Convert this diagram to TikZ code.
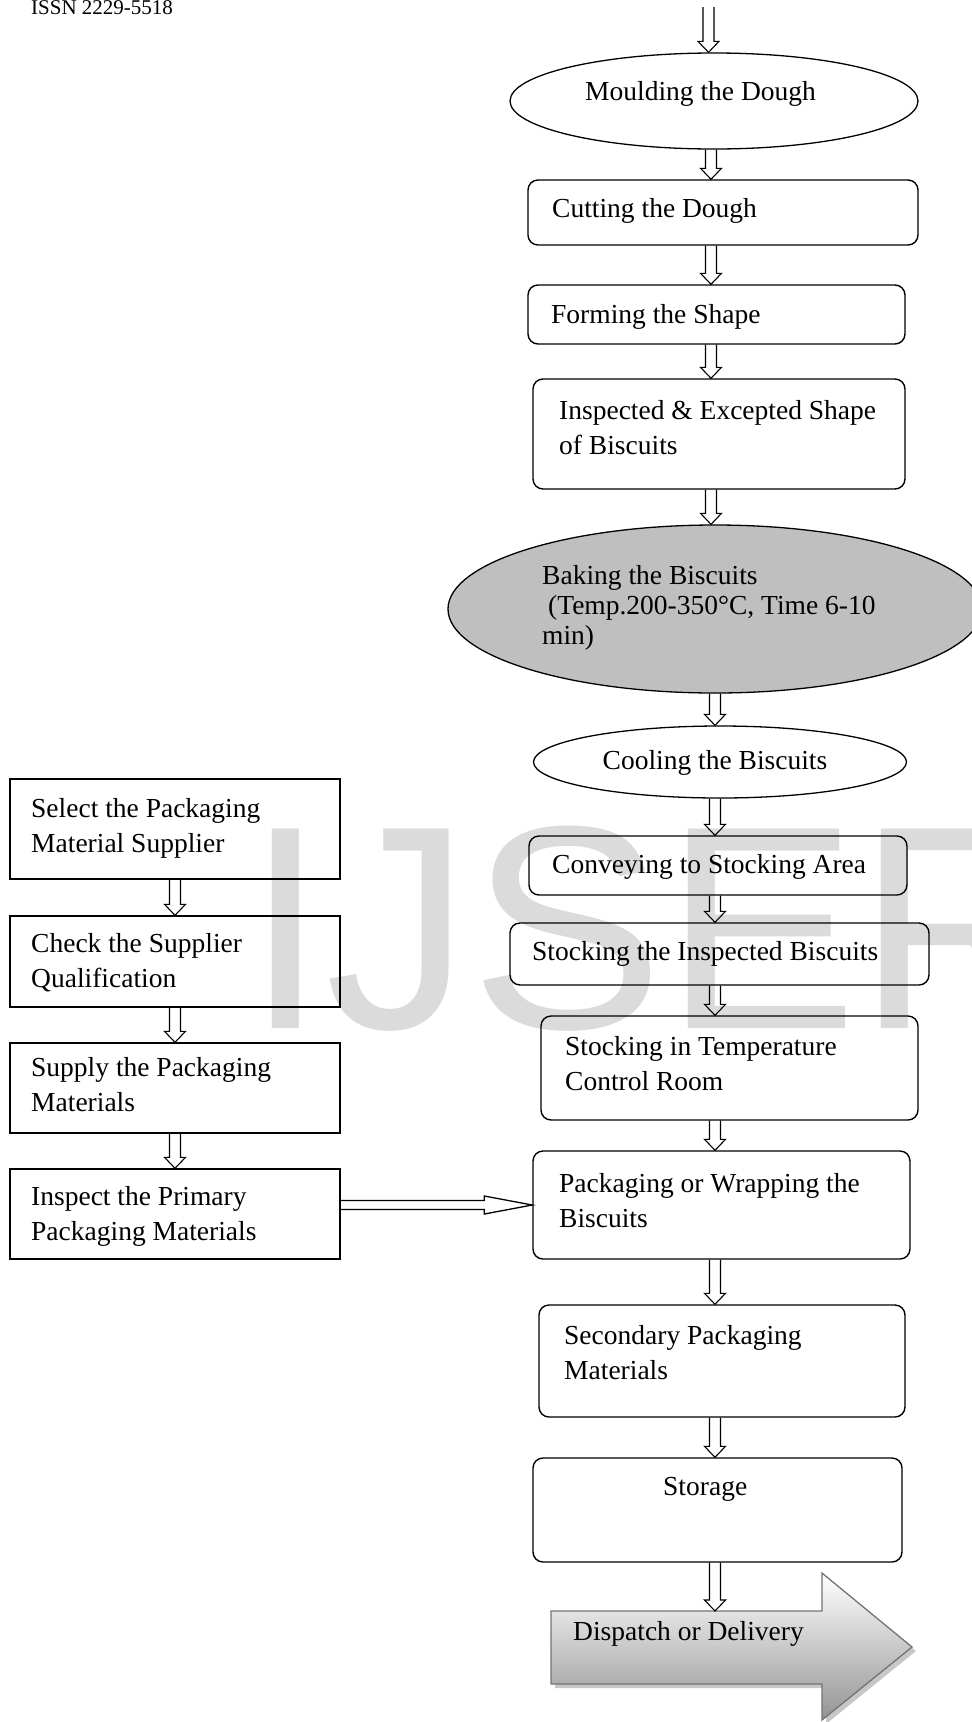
\documentclass[tikz,border=0pt]{standalone}
\usepackage{fontspec}
\setmainfont{Liberation Serif}
\newfontfamily\wmfont{Liberation Sans}
\usetikzlibrary{calc,shapes.geometric}
\newcommand{\ml}[1]{\begin{tabular}[t]{@{}l@{}}#1\end{tabular}}
\begin{document}
\begin{tikzpicture}[x=1pt,y=-1pt,
  lbl/.style={anchor=base west, inner sep=0pt, font=\fontsize{27.5}{35.5}\selectfont},
  rbox/.style={draw, rounded corners=10pt, line width=1.4pt, inner sep=0pt},
  sbox/.style={draw, line width=1.4pt, inner sep=0pt, minimum width=330},
  oval/.style={draw, ellipse, line width=1.3pt, inner sep=0pt},
  varrow/.style={line width=1.1pt, to path={let \p1=(\tikztostart), \p2=(\tikztotarget) in
     (\x1-5.5pt,\y1) -- (\x1-5.5pt,\y2+11pt) -- (\x1-10.5pt,\y2+11pt) -- (\x1,\y2)
     -- (\x1+10.5pt,\y2+11pt) -- (\x1+5.5pt,\y2+11pt) -- (\x1+5.5pt,\y1)}},
  harrow/.style={line width=1.3pt, to path={let \p1=(\tikztostart), \p2=(\tikztotarget) in
     (\x1,\y1+4.5pt) -- (\x2-48pt,\y1+4.5pt) -- (\x2-48pt,\y1+9pt) -- (\x2,\y1)
     -- (\x2-48pt,\y1-9pt) -- (\x2-48pt,\y1-4.5pt) -- (\x1,\y1-4.5pt)}}
]
\useasboundingbox (0,0) rectangle (972,1722);

% watermark and header
\node[anchor=base west, inner sep=0pt, text=black!14, font=\wmfont\fontsize{290}{290}\selectfont] (wm) at (245,1028) {IJSER};
\node[anchor=base west, inner sep=0pt, font=\fontsize{21}{24}\selectfont] (issn) at (31,14) {ISSN 2229-5518};

% right column shapes
\node[oval, minimum width=408, minimum height=96] (mould) at (714,101) {};
\node[rbox, minimum width=390, minimum height=65] (cut) at (723,212.5) {};
\node[rbox, minimum width=377, minimum height=59] (form) at (716.5,314.5) {};
\node[rbox, minimum width=372, minimum height=110] (insp) at (719,434) {};
\node[oval, fill=black!25, minimum width=534, minimum height=168] (bake) at (715,609) {};
\node[oval, minimum width=373, minimum height=72] (cool) at (720,762) {};
\node[rbox, minimum width=378, minimum height=59] (conv) at (718,865.5) {};
\node[rbox, minimum width=419, minimum height=62] (stk1) at (719.5,954) {};
\node[rbox, minimum width=377, minimum height=104] (stk2) at (729.5,1068) {};
\node[rbox, minimum width=377, minimum height=108] (pack) at (721.5,1205) {};
\node[rbox, minimum width=366, minimum height=112] (sec) at (722,1361) {};
\node[rbox, minimum width=369, minimum height=104] (stor) at (717.5,1510) {};

% left column
\node[sbox, minimum height=100] (sel) at (175,829) {};
\node[sbox, minimum height=91] (chk) at (175,961.5) {};
\node[sbox, minimum height=90] (sup) at (175,1088) {};
\node[sbox, minimum height=90] (ins) at (175,1214) {};

% dispatch arrow
\coordinate (d1) at (551,1611);
\coordinate (d2) at (822,1611);
\coordinate (d3) at (822,1573);
\coordinate (d4) at (912,1647);
\coordinate (d5) at (822,1720);
\coordinate (d6) at (822,1684);
\coordinate (d7) at (551,1684);
\fill[black!22] ($(d1)+(4,4)$) -- ($(d2)+(4,4)$) -- ($(d3)+(4,4)$) -- ($(d4)+(4,4)$) -- ($(d5)+(4,4)$) -- ($(d6)+(4,4)$) -- ($(d7)+(4,4)$) -- cycle;
\shade[top color=white, bottom color=black!42, draw=black!55, line width=1.3pt]
  (d1) -- (d2) -- (d3) -- (d4) -- (d5) -- (d6) -- (d7) -- cycle;
\coordinate (disptop) at (715,1611);

% texts
\node[lbl] (tmould) at (585,100) {Moulding the Dough};
\node[lbl] (tcut) at (552,217) {Cutting the Dough};
\node[lbl] (tform) at (551,323) {Forming the Shape};
\node[lbl] (tinsp) at (559,419) {\ml{Inspected \& Excepted Shape\\ of Biscuits}};
\node[lbl, font=\fontsize{27.5}{30}\selectfont] (tbake) at (542,584) {\ml{Baking the Biscuits\\ \hspace{6pt}(Temp.200-350°C, Time 6-10\\ min)}};
\node[lbl, anchor=base] (tcool) at (715,769) {Cooling the Biscuits};
\node[lbl] (tconv) at (552,873) {Conveying to Stocking Area};
\node[lbl] (tstk1) at (532,960) {Stocking the Inspected Biscuits};
\node[lbl] (tstk2) at (565,1055) {\ml{Stocking in Temperature\\ Control Room}};
\node[lbl] (tpack) at (559,1192) {\ml{Packaging or Wrapping the\\ Biscuits}};
\node[lbl] (tsec) at (564,1344) {\ml{Secondary Packaging\\ Materials}};
\node[lbl] (tstor) at (663,1495) {Storage};
\node[lbl] (tdisp) at (573,1640) {Dispatch or Delivery};
\node[lbl] (tsel) at (31,817) {\ml{Select the Packaging\\ Material Supplier}};
\node[lbl] (tchk) at (31,952) {\ml{Check the Supplier\\ Qualification}};
\node[lbl] (tsup) at (31,1076) {\ml{Supply the Packaging\\ Materials}};
\node[lbl] (tins) at (31,1205) {\ml{Inspect the Primary\\ Packaging Materials}};

% connectors
\coordinate (top) at (708.5,7);
\coordinate (ca) at (711,0);
\coordinate (cb) at (715,0);
\coordinate (hy) at (0,1205);
\draw[varrow] (top) to (mould.north -| top);
\draw[varrow] (mould.south -| ca) to (cut.north -| ca);
\draw[varrow] (cut.south -| ca) to (form.north -| ca);
\draw[varrow] (form.south -| ca) to (insp.north -| ca);
\draw[varrow] (insp.south -| ca) to (bake.north -| ca);
\draw[varrow] (bake.south -| cb) to (cool.north -| cb);
\draw[varrow] (cool.south -| cb) to (conv.north -| cb);
\draw[varrow] (conv.south -| cb) to (stk1.north -| cb);
\draw[varrow] (stk1.south -| cb) to (stk2.north -| cb);
\draw[varrow] (stk2.south -| cb) to (pack.north -| cb);
\draw[varrow] (pack.south -| cb) to (sec.north -| cb);
\draw[varrow] (sec.south -| cb) to (stor.north -| cb);
\draw[varrow] (stor.south -| cb) to (disptop);
\draw[varrow] (sel.south) to (chk.north);
\draw[varrow] (chk.south) to (sup.north);
\draw[varrow] (sup.south) to (ins.north);
\draw[harrow] (ins.east |- hy) to (pack.west |- hy);
\end{tikzpicture}
\end{document}
